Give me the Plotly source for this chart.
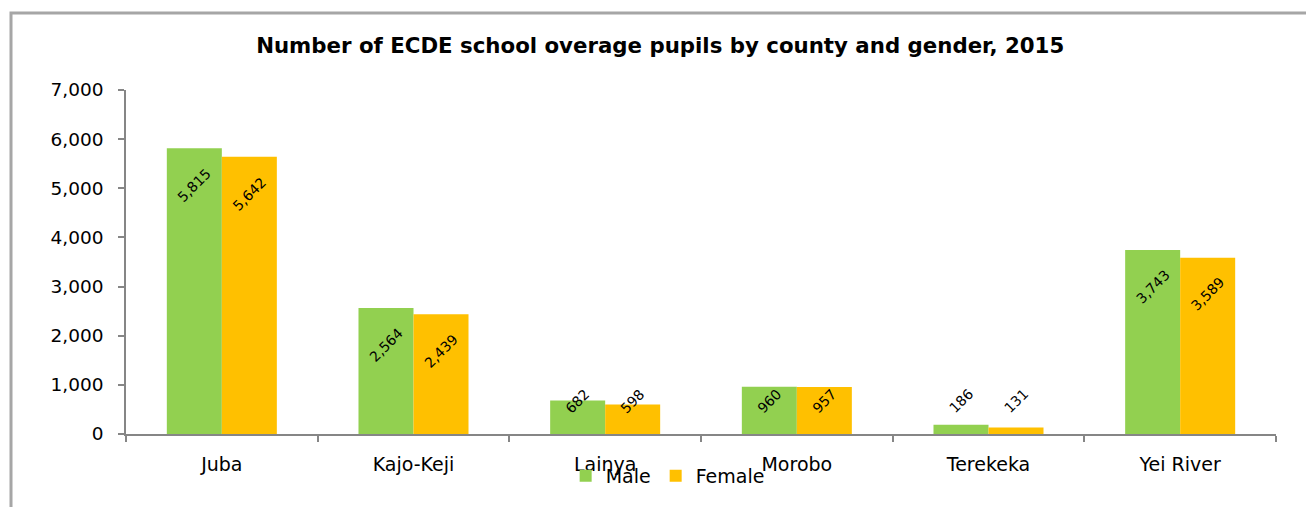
import plotly.graph_objects as go

# County enrolment of overage ECDE pupils, 2015
counties = ["Juba", "Kajo-Keji", "Lainya", "Morobo", "Terekeka", "Yei River"]
male = [5815, 2564, 682, 960, 186, 3743]
female = [5642, 2439, 598, 957, 131, 3589]

GREEN = "#92D050"
ORANGE = "#FFC000"
AXIS_GREY = "#868686"
FONT = "DejaVu Sans"

fig = go.Figure()
fig.add_trace(go.Bar(name="Male", x=counties, y=male, marker=dict(color=GREEN, line=dict(width=0))))
fig.add_trace(go.Bar(name="Female", x=counties, y=female, marker=dict(color=ORANGE, line=dict(width=0))))

# Rotated value labels: near the top inside tall bars, lifted to a common
# level when the bar is too short to hold the text.
half = (1 - 0.426) / 4
for i, (m, f) in enumerate(zip(male, female)):
    for val, dx in ((m, -half), (f, half)):
        fig.add_annotation(
            x=i + dx, y=max(val - 750, 670), xref="x", yref="y",
            text=f"{val:,}", showarrow=False, textangle=-45,
            xanchor="center", yanchor="middle",
            font=dict(family=FONT, size=14, color="#000000"),
        )

# Outer chart frame
fig.add_shape(
    type="rect", xref="paper", yref="paper",
    x0=-0.1, x1=1.3, y0=-0.6, y1=1.2238,
    line=dict(color="#A6A6A6", width=3), fillcolor="rgba(0,0,0,0)", layer="below",
)

fig.update_layout(
    width=1306, height=507,
    margin=dict(l=126, r=30, t=90, b=73),
    paper_bgcolor="white", plot_bgcolor="white",
    barmode="group", bargap=0.426, bargroupgap=0,
    font=dict(family=FONT, size=18, color="#000000"),
    title=dict(
        text="<b>Number of ECDE school overage pupils by county and gender, 2015</b>",
        x=0.5055, xanchor="center", y=0.91, yanchor="middle",
        font=dict(family=FONT, size=21.3, color="#000000"),
    ),
    showlegend=True,
    legend=dict(
        orientation="h", x=0.471, xanchor="center", y=-0.122, yanchor="middle",
        font=dict(family=FONT, size=19), bgcolor="rgba(0,0,0,0)",
        itemwidth=30, tracegroupgap=0,
    ),
    xaxis=dict(
        type="category", showline=True, linecolor=AXIS_GREY, linewidth=1.5,
        ticks="outside", tickson="boundaries", ticklen=6, tickcolor=AXIS_GREY,
        tickwidth=1.5, showgrid=False, ticklabelstandoff=12,
        tickfont=dict(family=FONT, size=19),
    ),
    yaxis=dict(
        range=[0, 7000], dtick=1000, tickformat=",", showline=True,
        linecolor=AXIS_GREY, linewidth=1.5, ticks="outside", ticklen=6,
        tickcolor=AXIS_GREY, tickwidth=1.5, showgrid=False, zeroline=False,
        ticklabelstandoff=11, tickfont=dict(family=FONT, size=18.5),
    ),
)

fig.write_html("out.html")
